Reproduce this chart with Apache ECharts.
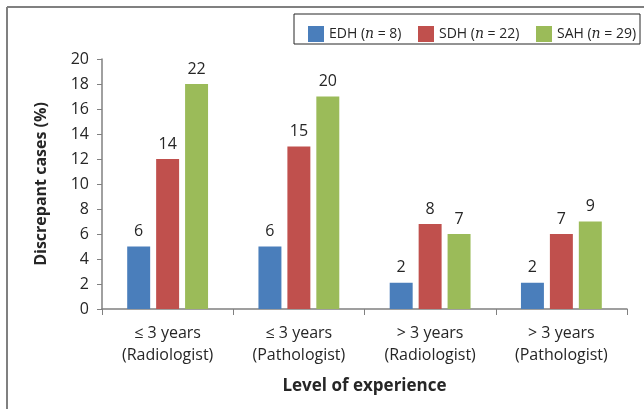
<!DOCTYPE html>
<html>
<head>
<meta charset="utf-8">
<script src="https://cdn.jsdelivr.net/npm/echarts@6/dist/echarts.min.js"></script>
<style>
html,body{margin:0;padding:0;background:#fff;}
#c{width:644px;height:409px;}
</style>
</head>
<body>
<div id="c"></div>
<script>
var categories = ['≤ 3 years\n(Radiologist)', '≤ 3 years\n(Pathologist)', '> 3 years\n(Radiologist)', '> 3 years\n(Pathologist)'];
var seriesNames = ['EDH', 'SDH', 'SAH'];
var seriesN = [8, 22, 29];
var edhPct = [5, 5, 2.1, 2.1];
var sdhPct = [12, 13, 6.8, 6];
var sahPct = [18, 17, 6, 7];
var edhCounts = [6, 6, 2, 2];
var sdhCounts = [14, 15, 8, 7];
var sahCounts = [22, 20, 7, 9];
var yTicks = [0, 2, 4, 6, 8, 10, 12, 14, 16, 18, 20];

var colors = ['#4A7EBB', '#C0504D', '#9BBB59'];
var font = '"Open Sans", sans-serif';
var textColor = '#262626';
var pcts = [edhPct, sdhPct, sahPct];
var counts = [edhCounts, sdhCounts, sahCounts];
var legendLefts = [303, 413, 531];

var chart = echarts.init(document.getElementById('c'));
var series = seriesNames.map(function (name, i) {
  return {
    name: name,
    type: 'bar',
    data: pcts[i],
    barWidth: '17.5%',
    barGap: '26%',
    itemStyle: { color: colors[i] },
    label: {
      show: true,
      position: 'top',
      distance: 7,
      color: textColor,
      fontFamily: font,
      fontSize: 16,
      formatter: function (p) { return counts[i][p.dataIndex]; }
    }
  };
});

var legends = seriesNames.map(function (name, i) {
  return {
    left: legendLefts[i],
    top: 21,
    itemWidth: 16,
    itemHeight: 16,
    itemGap: 6,
    icon: 'rect',
    data: [name],
    formatter: function (nm) {
      return nm + ' ({i|n} = ' + seriesN[i] + ')';
    },
    textStyle: {
      color: textColor,
      fontFamily: font,
      fontSize: 14,
      rich: { i: { fontStyle: 'italic', fontFamily: '"DejaVu Serif", serif', fontSize: 14, color: textColor } }
    }
  };
});

chart.setOption({
  animation: false,
  textStyle: { fontFamily: font },
  graphic: [
    { type: 'line', shape: { x1: 7, y1: 7, x2: 644, y2: 7 }, style: { stroke: '#808080', lineWidth: 2 } },
    { type: 'line', shape: { x1: 7, y1: 7, x2: 7, y2: 409 }, style: { stroke: '#808080', lineWidth: 2 } },
    { type: 'rect', shape: { x: 294, y: 14, width: 346, height: 30 }, style: { fill: 'none', stroke: '#262626', lineWidth: 1 }, z: -1 }
  ],
  legend: legends,
  grid: { left: 102, right: 17, top: 59, bottom: 100 },
  xAxis: {
    type: 'category',
    data: categories,
    name: 'Level of experience',
    nameLocation: 'middle',
    nameGap: 69,
    nameTextStyle: { fontFamily: font, fontSize: 17, fontWeight: 'bold', color: textColor },
    axisLine: { lineStyle: { color: '#808080', width: 1.5 } },
    axisTick: { show: true, length: 6, alignWithLabel: false, lineStyle: { color: '#808080' } },
    axisLabel: { color: textColor, fontFamily: font, fontSize: 16, lineHeight: 22, margin: 13 }
  },
  yAxis: {
    type: 'value',
    min: 0,
    max: 20,
    interval: 2,
    name: 'Discrepant cases (%)',
    nameLocation: 'middle',
    nameGap: 53,
    nameTextStyle: { fontFamily: font, fontSize: 16, fontWeight: 'bold', color: textColor },
    axisLine: { show: true, lineStyle: { color: '#808080', width: 1.5 } },
    axisTick: { show: true, length: 5, lineStyle: { color: '#808080' } },
    splitLine: { show: false },
    axisLabel: {
      color: textColor, fontFamily: font, fontSize: 16, margin: 13,
      formatter: function (v) { return yTicks.indexOf(v) >= 0 ? String(v) : ''; }
    }
  },
  series: series
});
</script>
</body>
</html>
